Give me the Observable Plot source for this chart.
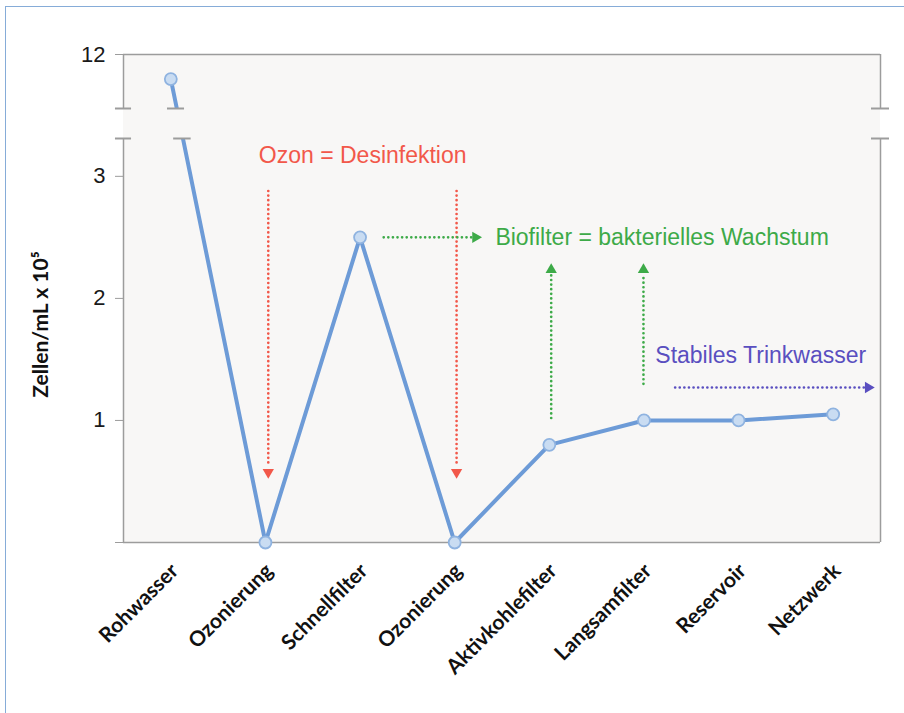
<!DOCTYPE html>
<html>
<head>
<meta charset="utf-8">
<script src="https://cdn.jsdelivr.net/npm/d3@7"></script>
<script src="https://cdn.jsdelivr.net/npm/@observablehq/plot@0.6"></script>
<style>
  html, body { margin: 0; padding: 0; background: #fff; overflow: hidden; }
  #wrap { position: relative; width: 904px; height: 713px; }
  #border { position: absolute; left: 5px; top: 6px; width: 905px; height: 720px; border: 1px solid #86acd8; box-sizing: border-box; }
  #chart { position: absolute; left: 0; top: 0; }
  #chart svg g[aria-label="y-axis tick label"] { font-size: 22px; }
</style>
</head>
<body>
<div id="wrap"><div id="border"></div><div id="chart"></div></div>
<script>
const stages = ["Rohwasser", "Ozonierung", "Schnellfilter", "Ozonierung", "Aktivkohlefilter", "Langsamfilter", "Reservoir", "Netzwerk"];
const cells = [11.8, 0, 2.5, 0, 0.8, 1.0, 1.0, 1.05];
const yTicks = [0, 1, 2, 3, 12];
const yBreak = [3.31, 11.56];

const bg = "#f8f7f6";
const frameCol = "#9c9c9c";
const red = "#f2584a", green = "#3daa48", purple = "#5a4fc0";
const dotted = {strokeWidth: 2.7, strokeDasharray: "0 4.6", strokeLinecap: "round"};

const chart = Plot.plot({
  width: 904,
  height: 713,
  marginLeft: 123, marginRight: 24, marginTop: 54, marginBottom: 171,
  x: {type: "linear", domain: [-0.5, 7.5], axis: null},
  y: {type: "linear", domain: [0, yBreak[0], yBreak[1], 12], range: [542, 138, 108, 54], axis: null},
  style: {background: "transparent", fontFamily: "'Liberation Sans', Arial, sans-serif"},
  marks: [
    Plot.rect([0], {x1: -0.5, x2: 7.5, y1: 0, y2: 12, fill: bg}),
    Plot.line(cells, {x: (d, i) => i, y: d => d, stroke: "#6d9bd7", strokeWidth: 4}),
    // gap of the broken axis
    Plot.rect([0], {x1: -0.5, x2: 7.5, y1: yBreak[0], y2: yBreak[1], fill: bg}),
    // frame segments
    Plot.ruleX([-0.5, 7.5], {y1: 0, y2: yBreak[0], stroke: frameCol, strokeWidth: 1.5}),
    Plot.ruleX([-0.5, 7.5], {y1: yBreak[1], y2: 12, stroke: frameCol, strokeWidth: 1.5}),
    Plot.ruleY([12], {x1: -0.5, x2: 7.5, stroke: frameCol, strokeWidth: 1.5}),
    Plot.ruleY([0], {x1: -0.5, x2: 7.5, stroke: frameCol, strokeWidth: 1.5}),
    // break marks
    Plot.ruleY(yBreak, {x1: -0.585, x2: -0.415, stroke: frameCol, strokeWidth: 2}),
    Plot.ruleY(yBreak, {x1: 7.405, x2: 7.595, stroke: frameCol, strokeWidth: 2}),
    Plot.ruleY([yBreak[1]], {x1: -0.035, x2: 0.145, stroke: frameCol, strokeWidth: 2}),
    Plot.ruleY([yBreak[0]], {x1: 0.03, x2: 0.215, stroke: frameCol, strokeWidth: 2}),
    // points
    Plot.dot(cells, {x: (d, i) => i, y: d => d, r: 6, fill: "#c9dcf2", stroke: "#8fb3e0", strokeWidth: 1.8}),
    // annotations: ozone
    Plot.text(["Ozon = Desinfektion"], {x: 0.93, y: 3.17, textAnchor: "start", fill: red, fontSize: 23}),
    Plot.link([1.03, 3.02], {x1: d => d, x2: d => d, y1: 2.88, y2: 0.62, stroke: red, ...dotted}),
    Plot.dot([1.03, 3.02], {x: d => d, y: 0.575, symbol: "triangle", r: 4.2, fill: red, rotate: 180}),
    // biofilter
    Plot.text(["Biofilter = bakterielles Wachstum"], {x: 3.43, y: 2.5, textAnchor: "start", fill: green, fontSize: 23}),
    Plot.link([0], {x1: 2.25, x2: 3.18, y1: 2.5, y2: 2.5, stroke: green, ...dotted}),
    Plot.dot([0], {x: 3.22, y: 2.5, symbol: "triangle", r: 4.2, fill: green, rotate: 90}),
    Plot.link([[4.02, 1.02], [4.995, 1.30]], {x1: d => d[0], x2: d => d[0], y1: d => d[1], y2: 2.19, stroke: green, ...dotted}),
    Plot.dot([4.02, 4.995], {x: d => d, y: 2.235, symbol: "triangle", r: 4.2, fill: green}),
    // stable
    Plot.text(["Stabiles Trinkwasser"], {x: 5.12, y: 1.53, textAnchor: "start", fill: purple, fontSize: 23}),
    Plot.link([0], {x1: 5.33, x2: 7.33, y1: 1.27, y2: 1.27, stroke: purple, ...dotted}),
    Plot.dot([0], {x: 7.37, y: 1.27, symbol: "triangle", r: 4.2, fill: purple, rotate: 90}),
    // axes
    Plot.axisY({ticks: yTicks, tickSize: 8, tickPadding: 10, tickFormat: d => d === 0 ? "" : String(d), fontSize: 22, stroke: frameCol, fill: "#1a1a1a", label: null}),
    Plot.axisX({ticks: d3.range(stages.length), tickFormat: i => stages[i], tickSize: 0, tickPadding: 25, dx: 4, tickRotate: -45, fontSize: 21, fontWeight: "bold", fontFamily: "Lato, sans-serif", fill: "#111", label: null}),
    Plot.text(["Zellen/mL x 10⁵"], {frameAnchor: "left", textAnchor: "middle", dx: -82, dy: 26, rotate: -90, fontSize: 21, fontWeight: "bold", fontFamily: "Lato, sans-serif", fill: "#111"})
  ]
});
document.getElementById("chart").appendChild(chart);
</script>
</body>
</html>
